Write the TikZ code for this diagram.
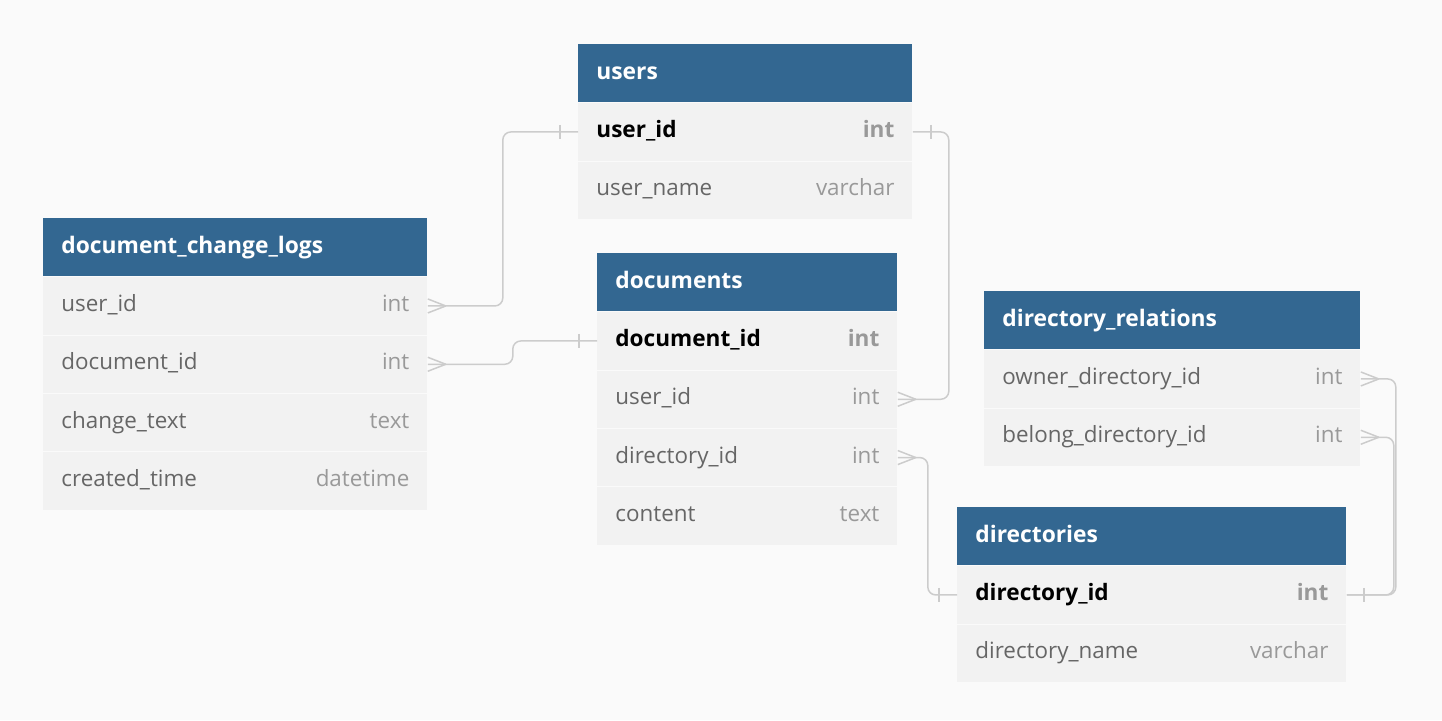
\documentclass[tikz,border=0pt]{standalone}
\usepackage{fontspec}
\setmainfont{Open Sans}
\usetikzlibrary{calc,positioning}
\definecolor{bgcol}{HTML}{FAFAFA}
\definecolor{hdrblue}{HTML}{336791}
\definecolor{rowgrey}{HTML}{F2F2F2}
\definecolor{fldgrey}{HTML}{666666}
\definecolor{typegrey}{HTML}{999999}
\definecolor{relgrey}{HTML}{CCCCCC}
\def\hrow#1#2{\makebox[#1][l]{\strut #2}}
\def\frow#1#2#3{\makebox[#1]{\strut #2\hfill\textcolor{typegrey}{#3}}}
\def\pkrow#1#2#3{\makebox[#1]{\strut\fontsize{11.3}{13.6}\selectfont\textcolor{black}{\bfseries #2}\hfill\textcolor{typegrey}{\bfseries #3}}}
\def\manyend(#1){\draw[rel] ($(#1)+(18,0)$) -- ($(#1)+(0,-7)$) ($(#1)+(18,0)$) -- ($(#1)+(0,7)$);}
\def\oneend(#1)(#2){\draw[rel] ($(#1)+(#2,-7)$) -- ($(#1)+(#2,7)$);}
\begin{document}
\begin{tikzpicture}[x=0.5pt, y=-0.5pt, font=\fontsize{11.2}{13.6}\selectfont,
	tblhead/.style={fill=hdrblue, text=white, font=\fontsize{11.4}{14}\selectfont\bfseries, inner xsep=9pt, inner ysep=0pt, minimum height=29pt, anchor=north west},
	fld/.style={fill=rowgrey, text=fldgrey, inner xsep=9pt, inner ysep=0pt, minimum height=28.75pt},
	rel/.style={draw=relgrey, line width=0.75pt}]
		%%%%% START %%%%%
		
		\fill[bgcol] (0, 0) rectangle (1442, 720);
		\useasboundingbox (0, 0) rectangle (1442, 720);
		
		% users
		\node[tblhead] (usersH) at (578, 44) {\hrow{149pt}{users}};
		\node[fld, below=0pt of usersH] (usersUid) {\pkrow{149pt}{user\_id}{int}};
		\node[fld, below=0pt of usersUid] (usersName) {\frow{149pt}{user\_name}{varchar}};
		
		% document_change_logs
		\node[tblhead] (logsH) at (43, 218) {\hrow{174pt}{document\_change\_logs}};
		\node[fld, below=0pt of logsH] (logsUid) {\frow{174pt}{user\_id}{int}};
		\node[fld, below=0pt of logsUid] (logsDid) {\frow{174pt}{document\_id}{int}};
		\node[fld, below=0pt of logsDid] (logsText) {\frow{174pt}{change\_text}{text}};
		\node[fld, below=0pt of logsText] (logsTime) {\frow{174pt}{created\_time}{datetime}};
		
		% documents
		\node[tblhead] (docsH) at (597, 253) {\hrow{132pt}{documents}};
		\node[fld, below=0pt of docsH] (docsDid) {\pkrow{132pt}{document\_id}{int}};
		\node[fld, below=0pt of docsDid] (docsUid) {\frow{132pt}{user\_id}{int}};
		\node[fld, below=0pt of docsUid] (docsDir) {\frow{132pt}{directory\_id}{int}};
		\node[fld, below=0pt of docsDir] (docsContent) {\frow{132pt}{content}{text}};
		
		% directory_relations
		\node[tblhead] (relsH) at (984, 291) {\hrow{170pt}{directory\_relations}};
		\node[fld, below=0pt of relsH] (relsOwner) {\frow{170pt}{owner\_directory\_id}{int}};
		\node[fld, below=0pt of relsOwner] (relsBelong) {\frow{170pt}{belong\_directory\_id}{int}};
		
		% directories
		\node[tblhead] (dirsH) at (957, 507) {\hrow{176.5pt}{directories}};
		\node[fld, below=0pt of dirsH] (dirsDid) {\pkrow{176.5pt}{directory\_id}{int}};
		\node[fld, below=0pt of dirsDid] (dirsName) {\frow{176.5pt}{directory\_name}{varchar}};
		
		% relations
		\draw[rel, rounded corners=4pt] (logsUid.east) -- ++(75, 0) |- (usersUid.west);
		\manyend(logsUid.east)
		\oneend(usersUid.west)(-18)
		
		\draw[rel, rounded corners=4pt] (logsDid.east) -- ++(85, 0) |- (docsDid.west);
		\manyend(logsDid.east)
		\oneend(docsDid.west)(-18)
		
		\draw[rel, rounded corners=4pt] (usersUid.east) -- ++(36, 0) |- (docsUid.east);
		\oneend(usersUid.east)(18)
		\manyend(docsUid.east)
		
		\draw[rel, rounded corners=4pt] (docsDir.east) -- ++(30, 0) |- (dirsDid.west);
		\manyend(docsDir.east)
		\oneend(dirsDid.west)(-18)
		
		\draw[rel, rounded corners=4pt] (relsOwner.east) -- ++(35, 0) |- (dirsDid.east);
		\draw[rel, rounded corners=4pt] (relsBelong.east) -- ++(33, 0) |- (dirsDid.east);
		\manyend(relsOwner.east)
		\manyend(relsBelong.east)
		\oneend(dirsDid.east)(17)
		
		%%%%% END %%%%%
\end{tikzpicture}
\end{document}
